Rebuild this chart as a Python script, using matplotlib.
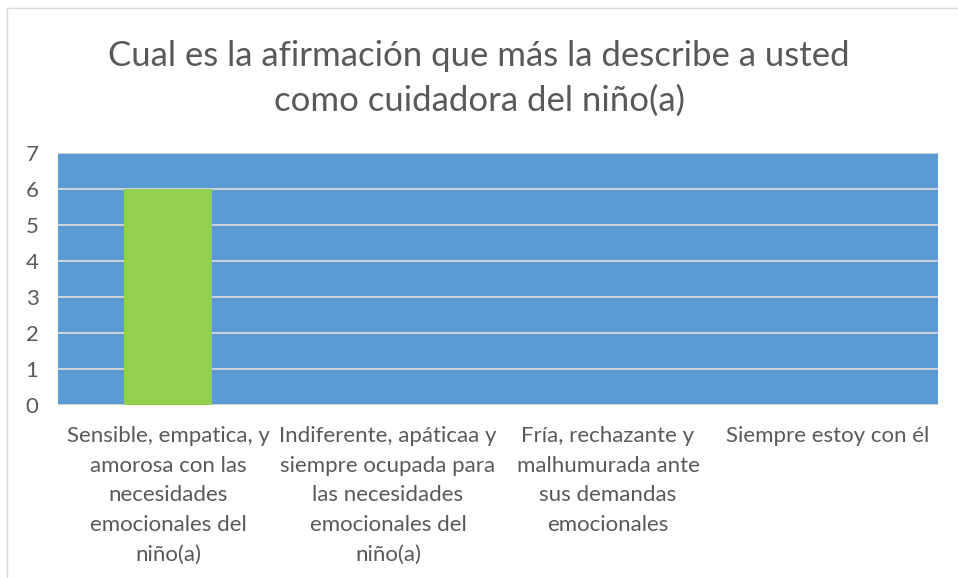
import matplotlib
matplotlib.use("Agg")
import matplotlib.pyplot as plt
from matplotlib.lines import Line2D

categories = [
    "Sensible, empatica, y\namorosa con las\nnecesidades\nemocionales del\nniño(a)",
    "Indiferente, apáticaa y\nsiempre ocupada para\nlas necesidades\nemocionales del\nniño(a)",
    "Fría, rechazante y\nmalhumurada ante\nsus demandas\nemocionales",
    "Siempre estoy con él",
]
values = [6, 0, 0, 0]
yticks = [0, 1, 2, 3, 4, 5, 6, 7]
title = "Cual es la afirmación que más la describe a usted\ncomo cuidadora del niño(a)"

plt.rcParams['font.family'] = ['Lato', 'DejaVu Sans']
text_color = "#595959"

fig = plt.figure(figsize=(9.58, 5.78), dpi=100)
ax = fig.add_axes([58/958, 1-405/578, 880/958, 252/578])
ax.set_facecolor("#5B9BD5")

x = list(range(len(categories)))
ax.bar(x, values, width=0.4, color="#92D050", zorder=3)
ax.set_xlim(-0.5, len(categories)-0.5)
ax.set_ylim(0, 7)
ax.set_yticks(yticks)
ax.set_yticklabels([str(t) for t in yticks])
ax.yaxis.grid(True, color="#D9D9D9", linewidth=1.3, zorder=1)
ax.set_axisbelow(True)
for s in ax.spines.values():
    s.set_visible(False)
ax.tick_params(axis='both', length=0, colors=text_color, labelsize=16)
ax.tick_params(axis='y', pad=14)
ax.set_xticks(x)
ax.set_xticklabels(categories, linespacing=1.61, va='top')
ax.tick_params(axis='x', pad=15)

fig.text(0.5, 1-78.5/578, title, ha='center', va='center', fontsize=25,
         color=text_color, linespacing=1.46)

# outer chart border (top and left visible)
fig.add_artist(Line2D([7/958, 7/958], [0, 1-8/578], transform=fig.transFigure,
                      color="#D9D9D9", linewidth=1))
fig.add_artist(Line2D([7/958, 1], [1-8/578, 1-8/578], transform=fig.transFigure,
                      color="#D9D9D9", linewidth=1))

fig.savefig("out.png", dpi=100)
